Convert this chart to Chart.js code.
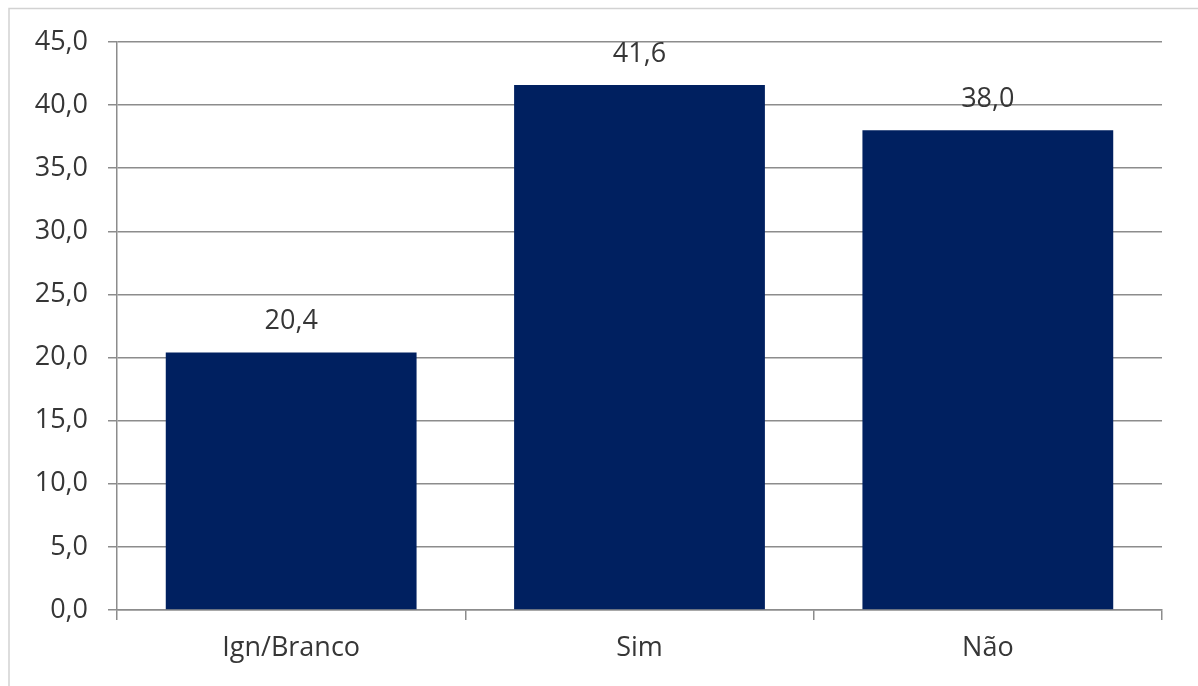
<!DOCTYPE html>
<html>
<head>
<meta charset="utf-8">
<script src="https://cdn.jsdelivr.net/npm/chart.js@4/dist/chart.umd.min.js"></script>
<style>
  html, body { margin: 0; padding: 0; background: #fff; }
  #chart1 { display: block; }
</style>
</head>
<body>
<canvas id="chart1" width="1198" height="686"></canvas>
<script>
const categories = ['Ign/Branco', 'Sim', 'Não'];
const percentages = [20.4, 41.6, 38.0];
const yTicks = [0, 5, 10, 15, 20, 25, 30, 35, 40, 45];

const fmt = v => v.toFixed(1).replace('.', ',');
const labelFont = { family: '"Open Sans", sans-serif', size: 27 };
const textColor = '#363636';
const lineColor = '#8c8c8c';

// gray frame on the left and top edges
const frame = {
    id: 'frame',
    beforeDraw(chart) {
        const ctx = chart.ctx;
        ctx.save();
        ctx.strokeStyle = '#d2d2d2';
        ctx.lineWidth = 1.5;
        ctx.beginPath();
        ctx.moveTo(9, chart.height);
        ctx.lineTo(9, 8.5);
        ctx.lineTo(chart.width, 8.5);
        ctx.stroke();
        ctx.restore();
    }
};

// value printed above each bar
const barValues = {
    id: 'barValues',
    afterDatasetsDraw(chart) {
        const ctx = chart.ctx;
        const meta = chart.getDatasetMeta(0);
        ctx.save();
        ctx.font = labelFont.size + 'px ' + labelFont.family;
        ctx.fillStyle = textColor;
        ctx.textAlign = 'center';
        ctx.textBaseline = 'middle';
        meta.data.forEach((bar, i) => {
            ctx.fillText(fmt(percentages[i]), bar.x, bar.y - 31);
        });
        ctx.restore();
    }
};

new Chart(document.getElementById('chart1'), {
    type: 'bar',
    data: {
        labels: categories,
        datasets: [{
            data: percentages,
            backgroundColor: '#002060',
            borderWidth: 0,
            barPercentage: 0.72,
            categoryPercentage: 1
        }]
    },
    options: {
        responsive: false,
        animation: false,
        layout: { padding: { left: 0, top: 42, right: 36, bottom: 0 } },
        plugins: {
            legend: { display: false },
            tooltip: { enabled: false }
        },
        scales: {
            y: {
                min: 0,
                max: 45,
                afterFit: s => { s.width = 117; },
                afterBuildTicks: s => { s.ticks = yTicks.map(v => ({ value: v })); },
                ticks: {
                    callback: v => fmt(v),
                    color: textColor,
                    font: labelFont,
                    padding: 20
                },
                grid: { color: lineColor, lineWidth: 1.5, tickLength: 9 },
                border: { color: lineColor, width: 1.5 }
            },
            x: {
                afterFit: s => { s.height = 76; },
                ticks: {
                    color: textColor,
                    font: labelFont,
                    padding: 12
                },
                grid: {
                    offset: true,
                    drawOnChartArea: false,
                    color: lineColor,
                    lineWidth: 1.5,
                    tickLength: 10
                },
                border: { color: lineColor, width: 1.5 }
            }
        }
    },
    plugins: [frame, barValues]
});
</script>
</body>
</html>
